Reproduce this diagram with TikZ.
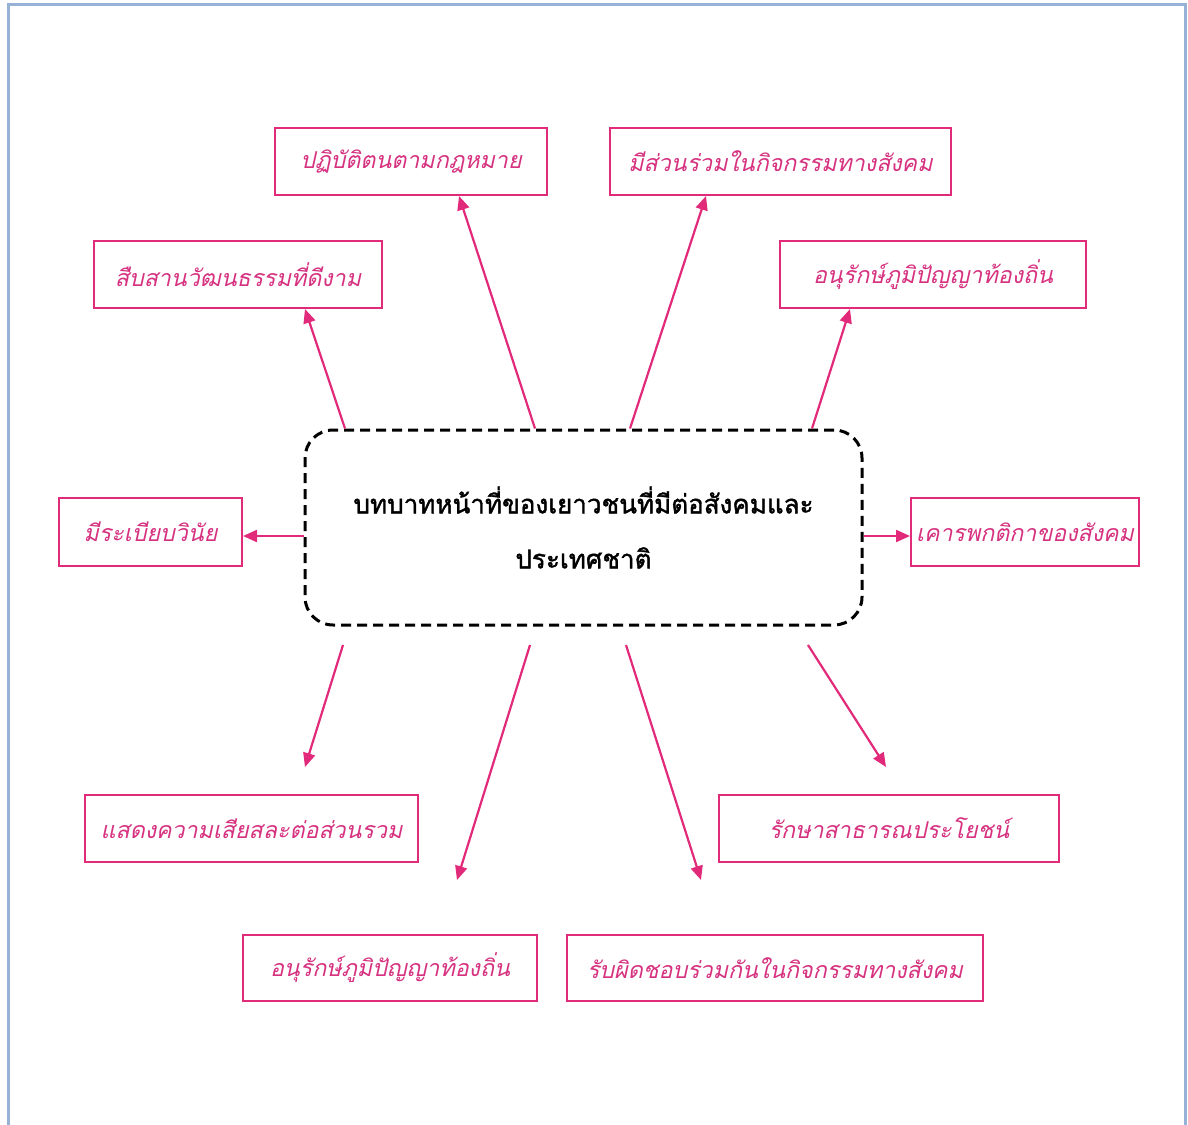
\documentclass[tikz,border=0pt]{standalone}
\usepackage{fontspec}
\usetikzlibrary{arrows.meta,calc}
\newfontfamily\thaiit[Script=Thai,FakeSlant=0.22]{Loma}
\newfontfamily\thaibf[Script=Thai,FakeBold=1.5]{Loma}
\definecolor{pinkc}{RGB}{226,42,122}
\definecolor{pinkt}{RGB}{214,50,128}
\definecolor{framec}{RGB}{150,178,214}
\begin{document}
\begin{tikzpicture}[x=0.5pt,y=-0.5pt,
  leaf/.style={draw=pinkc,line width=1pt,fill=white,inner sep=0pt,
    font=\thaiit\fontsize{11.6}{14}\selectfont,text=pinkt},
  hub/.style={draw=black,line width=1.5pt,dash pattern=on 5pt off 3pt,rounded corners=14pt,
    minimum width=278.5pt,minimum height=97.5pt,align=center,
    font=\thaibf\fontsize{13}{27.5}\selectfont},
  arr/.style={draw=pinkc,line width=1.1pt,-{Triangle[length=7pt,width=6pt]}}]
\useasboundingbox (0,0) rectangle (1188,1124);
\fill[white] (0,0) rectangle (1188,1124);
\draw[framec,line width=1.5pt] (8,1130) -- (8,4) -- (1185,4) -- (1185,1130);
% hub
\node[hub] (c) at (583.5,527.5) {บทบาทหน้าที่ของเยาวชนที่มีต่อสังคมและ\\ประเทศชาติ};
% leaves
\node[leaf,minimum width=136pt,minimum height=33.5pt] (b1) at (411,161.5) {ปฏิบัติตนตามกฎหมาย};
\node[leaf,minimum width=170.5pt,minimum height=33.5pt] (b2) at (780.5,161.5) {มีส่วนร่วมในกิจกรรมทางสังคม};
\node[leaf,minimum width=144pt,minimum height=33.5pt] (b3) at (238,274.5) {สืบสานวัฒนธรรมที่ดีงาม};
\node[leaf,minimum width=153pt,minimum height=33.5pt] (b4) at (933,274.5) {อนุรักษ์ภูมิปัญญาท้องถิ่น};
\node[leaf,minimum width=91.5pt,minimum height=34pt] (b5) at (150.5,532) {มีระเบียบวินัย};
\node[leaf,minimum width=114pt,minimum height=34pt] (b6) at (1025,532) {เคารพกติกาของสังคม};
\node[leaf,minimum width=166.5pt,minimum height=33.5pt] (b7) at (251.5,828.5) {แสดงความเสียสละต่อส่วนรวม};
\node[leaf,minimum width=170pt,minimum height=33.5pt] (b8) at (889,828.5) {รักษาสาธารณประโยชน์};
\node[leaf,minimum width=147pt,minimum height=33pt] (b9) at (390,968) {อนุรักษ์ภูมิปัญญาท้องถิ่น};
\node[leaf,minimum width=208pt,minimum height=33pt] (b10) at (775,968) {รับผิดชอบร่วมกันในกิจกรรมทางสังคม};
% start points on hub
\coordinate (s1) at (c.north -| 535,0);
\coordinate (s2) at (c.north -| 630,0);
\coordinate (s3) at (c.north -| 345,0);
\coordinate (s4) at (c.north -| 812,0);
\coordinate (s7) at (343,645);
\coordinate (s9) at (530,645);
\coordinate (s10) at (626,645);
\coordinate (s8) at (808,645);
% end points
\coordinate (e1) at (b1.south -| 459,0);
\coordinate (e2) at (b2.south -| 706,0);
\coordinate (e3) at (b3.south -| 305,0);
\coordinate (e4) at (b4.south -| 850,0);
\coordinate (e7) at (305,767);
\coordinate (e9) at (457,880);
\coordinate (e10) at (701,880);
\coordinate (e8) at (886,767);
\draw[arr] (s1) -- (e1);
\draw[arr] (s2) -- (e2);
\draw[arr] (s3) -- (e3);
\draw[arr] (s4) -- (e4);
\draw[arr] (c.west |- 0,536) -- (b5.east |- 0,536);
\draw[arr] (c.east |- 0,536) -- (b6.west |- 0,536);
\draw[arr] (s7) -- (e7);
\draw[arr] (s9) -- (e9);
\draw[arr] (s10) -- (e10);
\draw[arr] (s8) -- (e8);
\end{tikzpicture}
\end{document}
